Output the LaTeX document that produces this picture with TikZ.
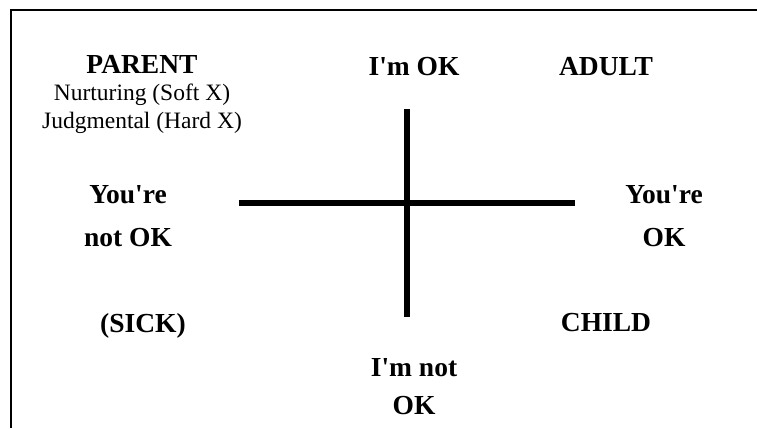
\documentclass[tikz,border=0pt]{standalone}
\usepackage{fontspec}
\setmainfont{Liberation Serif}
\usetikzlibrary{positioning}

\begin{document}
\begin{tikzpicture}[x=1pt,y=-1pt,
  hd/.style={font=\fontsize{27.5}{43}\selectfont\bfseries,align=center,
    anchor=base,inner sep=0pt},
  sub/.style={font=\fontsize{23.5}{28}\selectfont,align=center,
    anchor=base,inner sep=0pt},
  bar/.style={line width=5.5pt}]
  \useasboundingbox (0,0) rectangle (757,428);
  \draw[line width=2pt] (757,10) -- (11,10) -- (11,428);

  \node[hd] (parent) at (142,74) {PARENT};
  \node[sub] (nurt) at (142,128) {Nurturing (Soft X)\\Judgmental (Hard X)};
  \node[hd] (imok) at (414,75) {I\textquotesingle m OK};
  \node[hd] (adult) at (606,75) {ADULT};
  \node[hd] (ynok) at (128,246) {You\textquotesingle re\\not OK};
  \node[hd] (yok) at (664,246) {You\textquotesingle re\\OK};
  \node[hd] (sick) at (143,332) {(SICK)};
  \node[hd] (child) at (606,331) {CHILD};
  \node[hd] (imnok) at (414,414) {I\textquotesingle m not\\[-5pt]OK};

  \coordinate (vtop) at (407,109);
  \coordinate (vbot) at (407,317);
  \coordinate (hlft) at (239,203);
  \coordinate (hrgt) at (575,203);
  \draw[bar] (vtop) -- (vbot);
  \draw[bar] (hlft) -- (hrgt);
\end{tikzpicture}
\end{document}
